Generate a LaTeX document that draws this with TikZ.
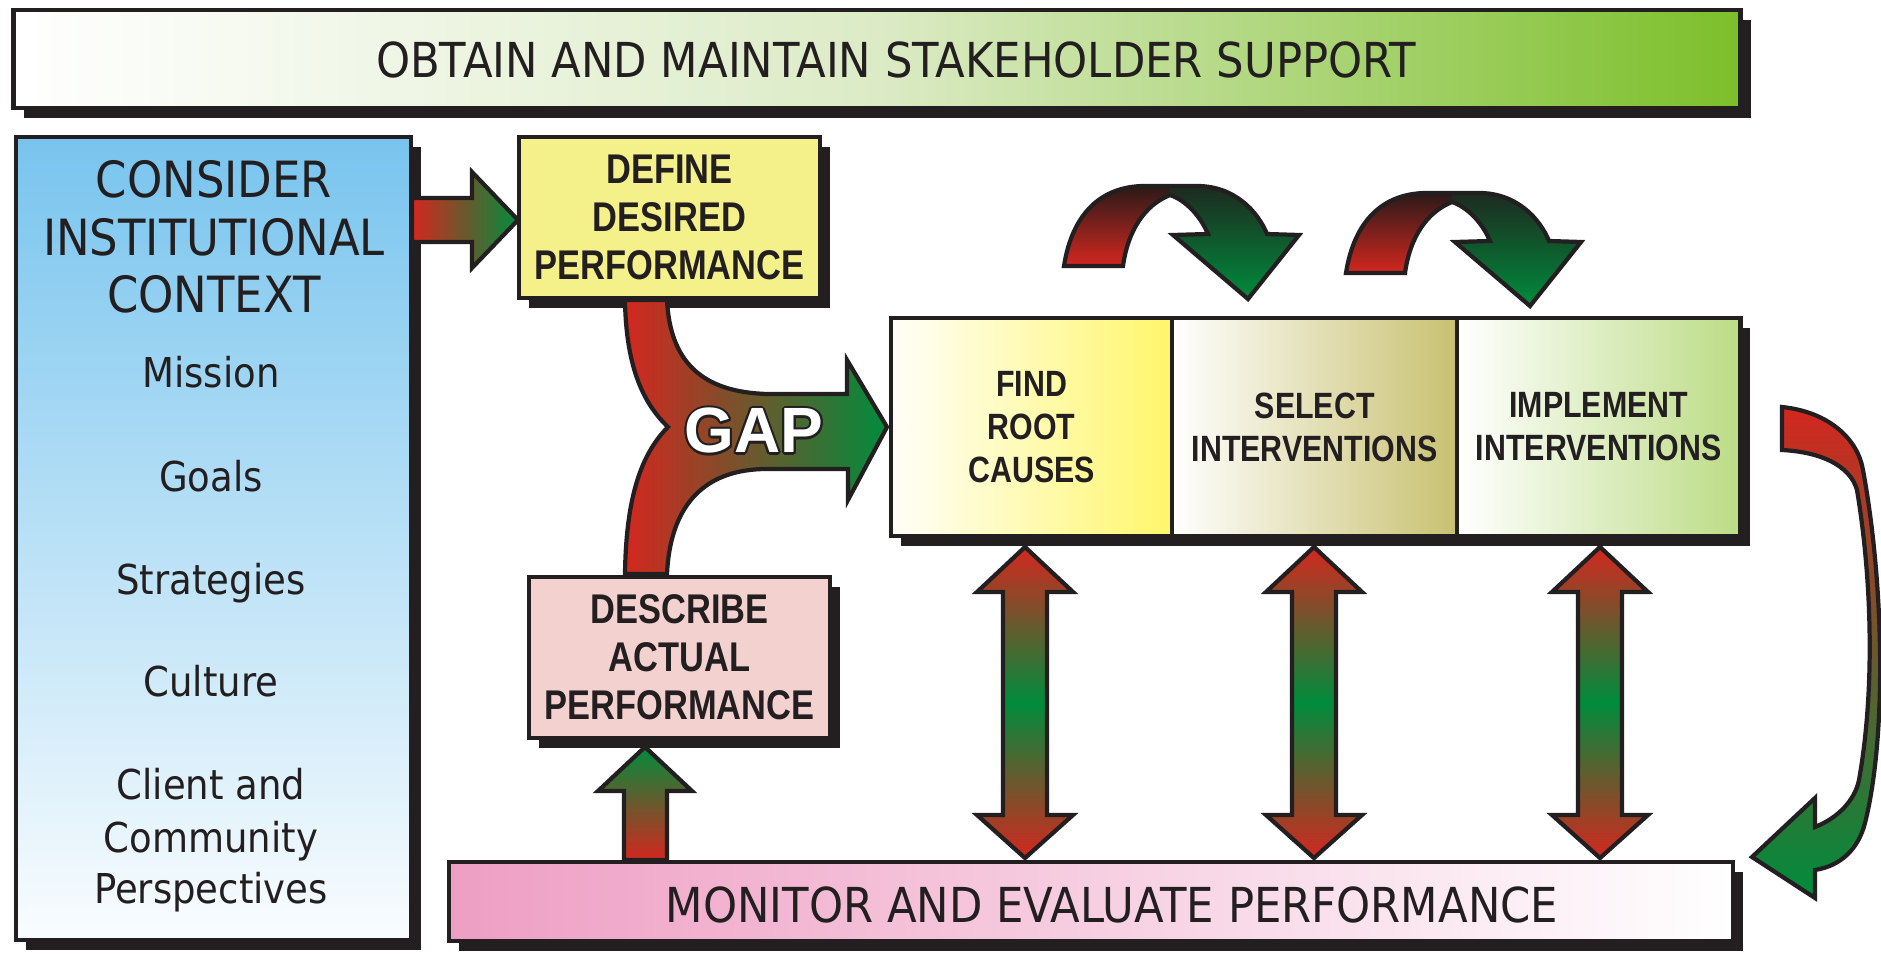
\documentclass[tikz,border=0pt]{standalone}
\usepackage{fontspec}
\setmainfont{DejaVu Sans}[FakeStretch=0.9]
\newfontfamily\narrowbold{Liberation Sans}[FakeStretch=0.83]
\newfontfamily\gapfont{Liberation Sans}
\usetikzlibrary{positioning,shadows}
\definecolor{dark}{HTML}{231F20}
\definecolor{arrowred}{HTML}{D3271F}
\definecolor{arrowgreen}{HTML}{008C3C}
\definecolor{redtop}{HTML}{2B1A18}
\definecolor{greentop}{HTML}{1D2A1F}
\definecolor{skyblue}{HTML}{78C4EE}
\definecolor{leafgreen}{HTML}{7CBF2A}
\definecolor{palegreen}{HTML}{DCEBC6}
\definecolor{lemon}{HTML}{FFF66A}
\definecolor{khaki}{HTML}{C8C170}
\definecolor{lightgreen}{HTML}{BCDC86}
\definecolor{rosepink}{HTML}{EE9EC3}
\definecolor{butter}{HTML}{F4F08A}
\definecolor{blush}{HTML}{F2D1CF}
\begin{document}
\begin{tikzpicture}[x=0.01cm,y=-0.01cm,
outline/.style={draw=dark,line width=1.2pt},
box/.style={outline,rectangle,inner sep=0pt,outer sep=0pt,text=dark,align=center,
  drop shadow={shadow xshift=0.1cm,shadow yshift=-0.1cm,fill=dark,opacity=1}},
caps/.style={font=\narrowbold\bfseries\fontsize{11.8}{13.7}\selectfont},
panel/.style={box,minimum height=2.18cm,font=\narrowbold\bfseries\fontsize{10.4}{12.2}\selectfont},
heading/.style={text=dark,inner sep=0pt,anchor=base,font=\fontsize{13.7}{16}\selectfont},
title/.style={heading,font=\fontsize{14.2}{16}\selectfont},
item/.style={heading,font=\fontsize{11.7}{14}\selectfont},
gaptext/.style={inner sep=0pt,anchor=base,font=\gapfont\bfseries\fontsize{18.2}{20}\selectfont},
redgreen/.style={outline,left color=arrowred,right color=arrowgreen},
greenred/.style={outline,top color=arrowgreen,bottom color=arrowred},
redgreenred/.style={outline,top color=arrowred,bottom color=arrowred,middle color=arrowgreen}]
\useasboundingbox (0,0) rectangle (1881,955);
\fill[white] (0,0) rectangle (1881,955);

\node[box,minimum width=17.26cm,minimum height=0.98cm,left color=white,right color=leafgreen,middle color=palegreen] (banner) at (877,59) {};
\node[heading] (supportlabel) at (896,78) {OBTAIN AND MAINTAIN STAKEHOLDER SUPPORT};

\node[box,minimum width=3.95cm,minimum height=8.03cm,top color=skyblue,bottom color=white!96!skyblue] (context) at (213.5,538.5) {};
\foreach \t/\y [count=\i] in {CONSIDER/198,INSTITUTIONAL/256,CONTEXT/313}
  \node[title] (head\i) at (214,\y) {\t};
\foreach \t/\y [count=\i] in {Mission/388,Goals/492,Strategies/595,Culture/697,Client and/800,Community/852,Perspectives/903}
  \node[item] (item\i) at (211,\y) {\t};

\node[box,caps,fill=butter,minimum width=3.01cm,minimum height=1.61cm] (define) at (669.5,217.5) {DEFINE\\DESIRED\\PERFORMANCE};
\node[box,caps,fill=blush,minimum width=3.01cm,minimum height=1.61cm] (describe) at (679.5,657.5) {DESCRIBE\\ACTUAL\\PERFORMANCE};

\node[panel,minimum width=2.81cm,left color=white!96!lemon,right color=lemon] (find) at (1031.5,427) {FIND\\ROOT\\CAUSES};
\node[panel,minimum width=2.85cm,left color=white,right color=khaki,right=0pt of find] (select) {SELECT\\INTERVENTIONS};
\node[panel,minimum width=2.83cm,left color=white,right color=lightgreen,right=0pt of select] (implement) {IMPLEMENT\\INTERVENTIONS};

\node[box,minimum width=12.84cm,minimum height=0.79cm,left color=rosepink,right color=white] (monitor) at (1091,901.5) {};
\node[heading] (monitorlabel) at (1112,922) {MONITOR AND EVALUATE PERFORMANCE};

\draw[redgreen] (412,198) -- (472,198) -- (472,172) -- (518,220) -- (472,268) -- (472,242) -- (412,242) -- cycle;
\draw[redgreen] (625,300) .. controls (626,370) and (645,405) .. (668,427) .. controls (640,455) and (626,500) .. (625,574) -- (667,574) .. controls (670,510) and (700,469) .. (767,469) -- (848,469) -- (848,500) -- (887,427) -- (847,360) -- (847,394) -- (767,394) .. controls (700,392) and (670,360) .. (667,300) -- cycle;
\coordinate (gapbase) at (754,453);
\foreach \a [count=\i] in {0,22.5,...,337.5}
  \node[gaptext,text=dark] (gapo\i) at ([shift={(\a:0.6pt)}]gapbase) {GAP};
\node[gaptext,text=white] (gap) at (gapbase) {GAP};

\draw[greenred] (624,860) -- (624,791) -- (598,791) -- (645,747) -- (692,791) -- (667,791) -- (667,860) -- cycle;
\foreach \px in {1025,1314,1600}
  \draw[redgreenred] (\px,547) -- ++(48,45) -- ++(-26,0) -- ++(0,223) -- ++(26,0) -- (\px,858) -- ++(-48,-43) -- ++(26,0) -- ++(0,-223) -- ++(-26,0) -- cycle;

\foreach \dx/\dy in {0/0,282/7}{
\begin{scope}[shift={(\dx,\dy)}]
\shade[top color=redtop,bottom color=arrowred] (1064,266) .. controls (1072,215) and (1100,186) .. (1145,186) -- (1170,186) -- (1170,195) .. controls (1145,205) and (1128,230) .. (1123,266) -- cycle;
\shade[top color=greentop,bottom color=arrowgreen] (1170,186) -- (1197,186) .. controls (1235,186) and (1258,212) .. (1267,234) -- (1299,235) -- (1248,299) -- (1173,235) -- (1208,234) .. controls (1200,215) and (1185,200) .. (1170,195) -- cycle;
\draw[outline] (1064,266) .. controls (1072,215) and (1100,186) .. (1145,186) -- (1197,186) .. controls (1235,186) and (1258,212) .. (1267,234) -- (1299,235) -- (1248,299) -- (1173,235) -- (1208,234) .. controls (1200,215) and (1185,200) .. (1170,195) .. controls (1145,205) and (1128,230) .. (1123,266) -- cycle;
\end{scope}}

\draw[outline,top color=arrowred,bottom color=arrowgreen] (1782,407) .. controls (1830,412) and (1858,440) .. (1863,470) .. controls (1885,590) and (1886,740) .. (1865,823) .. controls (1858,850) and (1840,866) .. (1815,870) -- (1815,898) -- (1752,857) -- (1815,798) -- (1815,827) .. controls (1838,818) and (1855,800) .. (1859,780) .. controls (1875,690) and (1872,580) .. (1857,490) .. controls (1850,465) and (1820,452) .. (1782,450) -- cycle;
\end{tikzpicture}
\end{document}
